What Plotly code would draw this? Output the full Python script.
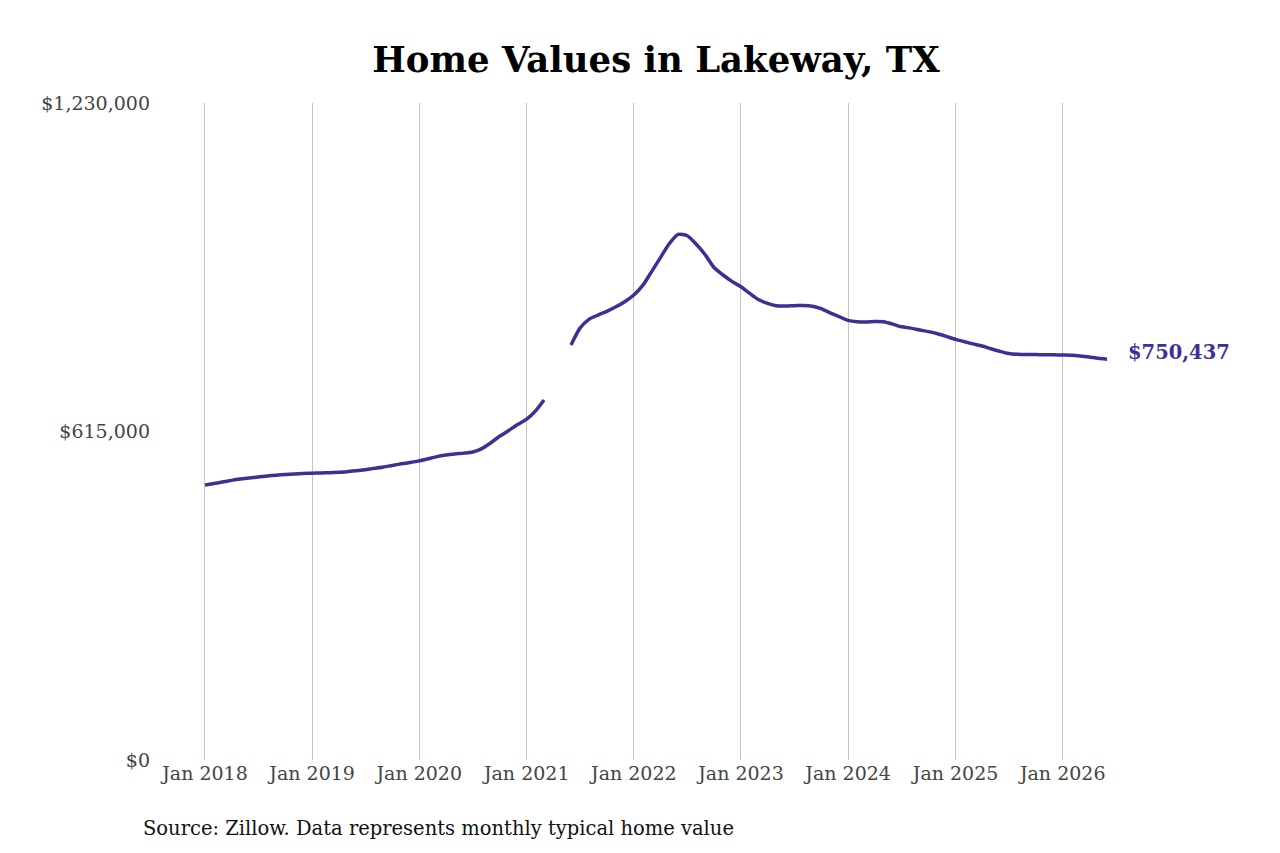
"""
Lakeway, TX home values (Zillow typical home value), monthly line chart.
"""

import plotly.graph_objects as go

# monthly dates, Jan 2018 .. Jun 2026
months = [f"{y}-{m:02d}-01" for y in range(2018, 2027) for m in range(1, 13)][:102]

# typical home value by month; Apr/May 2021 are missing in the source
values = [
    # 2018
    514800, 517500, 520500, 523500, 526000, 528000, 530000, 531800, 533200, 534500, 535600, 536300,
    # 2019
    537000, 537500, 538000, 538800, 539700, 541500, 543500, 546000, 548500, 551500, 554500, 557000,
    # 2020
    560000, 564000, 568000, 571000, 573000, 574500, 576500, 583000, 594000, 606000, 617000, 628000,
    # 2021
    638000, 654000, 674000, None, None, 777000, 808000, 825000, 833000, 840000, 848500, 858000,
    # 2022
    870500, 889000, 913000, 940000, 966000, 984000, 982000, 966000, 946000, 922000, 908000, 896000,
    # 2023
    886000, 873000, 862000, 855000, 850500, 850000, 850500, 851000, 849500, 845000, 837000, 830000,
    # 2024
    823000, 820500, 820000, 821000, 820500, 816000, 811000, 808500, 805000, 802000, 798000, 793000,
    # 2025
    787500, 783000, 779000, 775000, 770000, 765000, 761000, 759500, 759000, 759000, 758800, 758500,
    # 2026
    758200, 757800, 756500, 754500, 752000, 750437,
]

y_ticks = [0, 615000, 1230000]
y_tick_labels = ["$0", "$615,000", "$1,230,000"]
x_ticks = [f"{y}-01-01" for y in range(2018, 2027)]
x_tick_labels = [f"Jan {y}" for y in range(2018, 2027)]

LINE_COLOR = "#3b3194"
SERIF = "DejaVu Serif"

W, H = 1280, 853
M_L, M_R, M_T, M_B = 150, 48, 95, 101

fig = go.Figure()
fig.add_trace(
    go.Scatter(
        x=months,
        y=values,
        mode="lines",
        line=dict(color=LINE_COLOR, width=3.5, shape="spline", smoothing=0.6),
        connectgaps=False,
        showlegend=False,
        hoverinfo="skip",
    )
)

# end label
fig.add_annotation(
    x=months[-1],
    y=values[-1],
    text=f"<b>${values[-1]:,}</b>",
    showarrow=False,
    xanchor="left",
    yanchor="middle",
    xshift=19,
    yshift=7,
    font=dict(family=SERIF, size=19.5, color=LINE_COLOR),
)

# source line below the axis (pixel position -> paper coords)
plot_w = W - M_L - M_R
plot_h = H - M_T - M_B
fig.add_annotation(
    x=(133 - M_L) / plot_w,
    y=(H - M_B - 820) / plot_h,
    xref="paper",
    yref="paper",
    text="Source: Zillow. Data represents monthly typical home value",
    showarrow=False,
    xanchor="left",
    yanchor="middle",
    font=dict(family=SERIF, size=19.5, color="#111111"),
)

fig.update_layout(
    title=dict(
        text="<b>Home Values in Lakeway, TX</b>",
        x=648 / W,
        xanchor="center",
        y=1 - 52 / H,
        yanchor="middle",
        font=dict(family=SERIF, size=35.5, color="#000000"),
    ),
    width=W,
    height=H,
    margin=dict(l=M_L, r=M_R, t=M_T, b=M_B),
    paper_bgcolor="white",
    plot_bgcolor="white",
    xaxis=dict(
        type="date",
        range=["2017-07-25", "2027-08-28"],
        tickvals=x_ticks,
        ticktext=x_tick_labels,
        showgrid=True,
        gridcolor="#c4c4c4",
        gridwidth=1,
        zeroline=False,
        showline=False,
        ticks="",
        tickfont=dict(family=SERIF, size=19, color="#444444"),
    ),
    yaxis=dict(
        range=[0, 1230000],
        tickvals=y_ticks,
        ticktext=y_tick_labels,
        showgrid=False,
        zeroline=False,
        showline=False,
        ticks="",
        ticklabelstandoff=7,
        tickfont=dict(family=SERIF, size=19, color="#444444"),
    ),
)

fig.write_html("out.html")
